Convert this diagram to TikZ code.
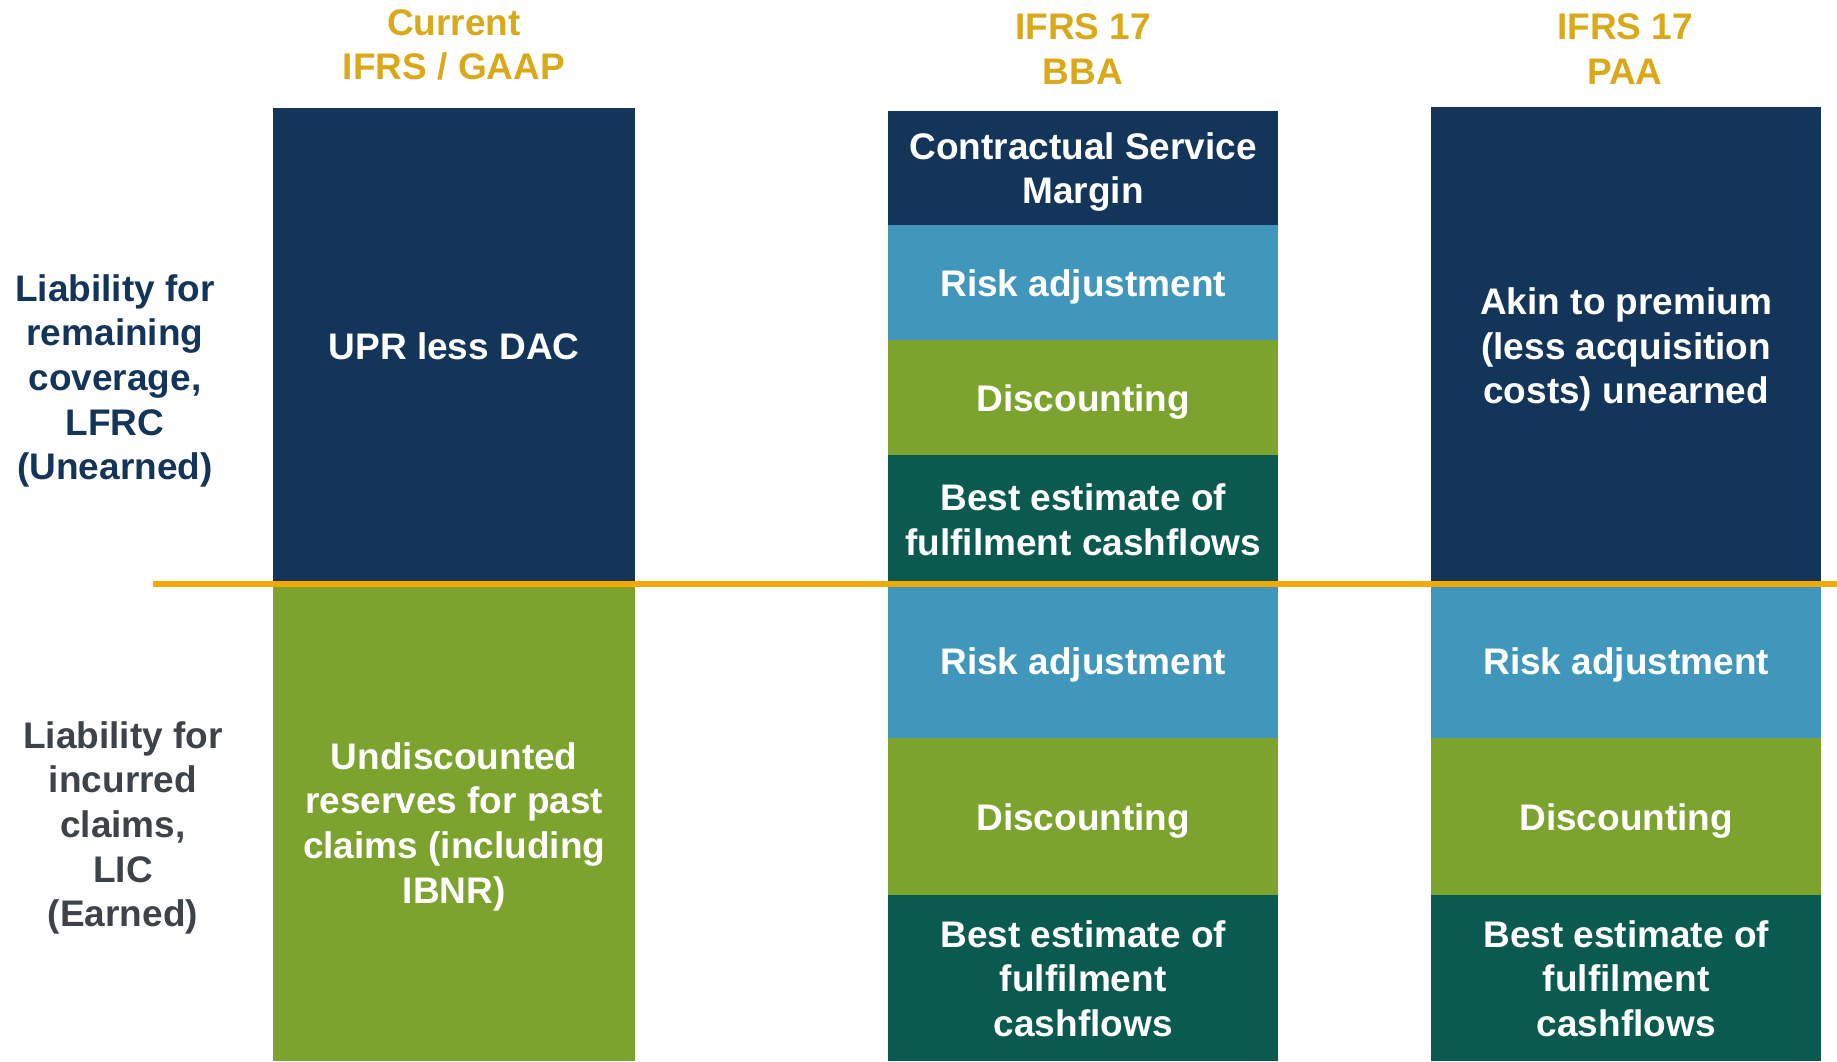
\documentclass[tikz,border=0pt]{standalone}
\usepackage{fontspec}
\setmainfont{Liberation Sans}
\definecolor{navy}{RGB}{20,53,90}
\definecolor{skyb}{RGB}{65,151,187}
\definecolor{leaf}{RGB}{123,163,45}
\definecolor{teal}{RGB}{11,90,80}
\definecolor{amber}{RGB}{245,168,0}
\definecolor{gold}{RGB}{218,169,26}
\definecolor{slate}{RGB}{62,67,73}
\begin{document}
\begin{tikzpicture}[x=1pt,y=-1pt,
  txt/.style={font=\bfseries\fontsize{37}{44.6}\selectfont, align=center, inner sep=0pt},
  box/.style={txt, rectangle, text=white, anchor=north west, text depth=0pt},
  hdr/.style={txt, text=gold},
  lbl/.style={txt, text depth=0pt},
  rule/.style={draw=amber, line width=6pt}]
\useasboundingbox (0,0) rectangle (1837,1061);
% headers
\node[hdr] (h1) at (454,45) {Current\\IFRS / GAAP};
\node[hdr] (h2) at (1083,49) {IFRS 17\\BBA};
\node[hdr] (h3) at (1625,49) {IFRS 17\\PAA};
% left labels
\node[lbl, text=navy] (lfrc) at (115,377) {Liability for\\remaining\\coverage,\\LFRC\\(Unearned)};
\node[lbl, text=slate] (lic) at (123,824) {Liability for\\incurred\\claims,\\LIC\\(Earned)};
% column 1
\node[box, fill=navy, minimum width=362pt, minimum height=476pt] (c1u) at (273,108) {UPR less DAC};
\node[box, fill=leaf, minimum width=362pt, minimum height=477pt] (c1l) at (273,584) {Undiscounted\\reserves for past\\claims (including\\IBNR)};
% column 2
\node[box, fill=navy, minimum width=390pt, minimum height=114pt] (c2a) at (888,111) {Contractual Service\\Margin};
\node[box, fill=skyb, minimum width=390pt, minimum height=115pt] (c2b) at (888,225) {Risk adjustment};
\node[box, fill=leaf, minimum width=390pt, minimum height=115pt] (c2c) at (888,340) {Discounting};
\node[box, fill=teal, minimum width=390pt, minimum height=129pt] (c2d) at (888,455) {Best estimate of\\fulfilment cashflows};
\node[box, fill=skyb, minimum width=390pt, minimum height=154pt] (c2e) at (888,584) {Risk adjustment};
\node[box, fill=leaf, minimum width=390pt, minimum height=157pt] (c2f) at (888,738) {Discounting};
\node[box, fill=teal, minimum width=390pt, minimum height=166pt] (c2g) at (888,895) {Best estimate of\\fulfilment\\cashflows};
% column 3
\node[box, fill=navy, minimum width=390pt, minimum height=477pt] (c3a) at (1431,107) {Akin to premium\\(less acquisition\\costs) unearned};
\node[box, fill=skyb, minimum width=390pt, minimum height=154pt] (c3b) at (1431,584) {Risk adjustment};
\node[box, fill=leaf, minimum width=390pt, minimum height=157pt] (c3c) at (1431,738) {Discounting};
\node[box, fill=teal, minimum width=390pt, minimum height=166pt] (c3d) at (1431,895) {Best estimate of\\fulfilment\\cashflows};
% dividing line
\coordinate (ruleL) at (153,584);
\coordinate (ruleR) at (1837,584);
\draw[rule] (ruleL) -- (ruleR);
\end{tikzpicture}
\end{document}
